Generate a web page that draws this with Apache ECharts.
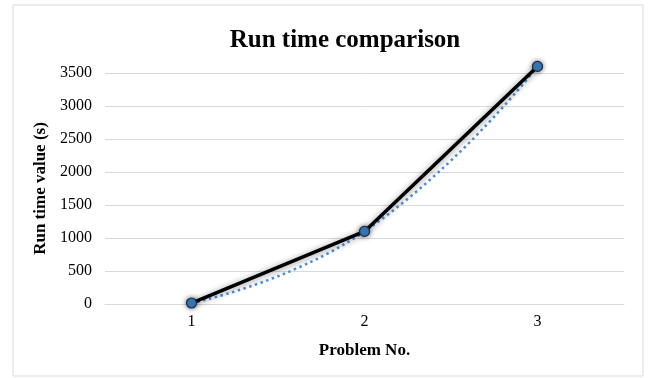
<!DOCTYPE html>
<html>
<head>
<meta charset="utf-8">
<script src="https://cdn.jsdelivr.net/npm/echarts@6/dist/echarts.min.js"></script>
<style>
html,body{margin:0;padding:0;background:#fff;}
#main{width:648px;height:378px;}
</style>
</head>
<body>
<div id="main"></div>
<script>
const categories = ['1', '2', '3'];
const runTimes = [15, 1100, 3600];
const titleText = 'Run time comparison';
const xName = 'Problem No.';
const yName = 'Run time value (s)';

const serif = '"Liberation Serif", "Times New Roman", serif';
const chart = echarts.init(document.getElementById('main'), null, {renderer: 'canvas'});
chart.setOption({
  backgroundColor: '#ffffff',
  animation: false,
  graphic: [{
    type: 'rect',
    shape: {x: 13, y: 5, width: 630, height: 371},
    style: {fill: 'none', stroke: '#d9d9d9', lineWidth: 1},
    silent: true
  }],
  title: {
    text: titleText,
    left: 340,
    textAlign: 'center',
    top: 23,
    textStyle: {fontFamily: serif, fontSize: 25, fontWeight: 'bold', color: '#000'}
  },
  grid: {left: 105, right: 24, top: 73, bottom: 74},
  xAxis: {
    type: 'category',
    data: categories,
    boundaryGap: true,
    name: xName,
    nameLocation: 'middle',
    nameGap: 38,
    nameTextStyle: {fontFamily: serif, fontSize: 17, fontWeight: 'bold', color: '#000'},
    axisLine: {show: true, lineStyle: {color: '#d9d9d9', width: 1}},
    axisTick: {show: false},
    axisLabel: {fontFamily: serif, fontSize: 16, color: '#000', margin: 10}
  },
  yAxis: {
    type: 'value',
    min: 0,
    max: 3500,
    interval: 500,
    name: yName,
    nameLocation: 'middle',
    nameGap: 54,
    nameTextStyle: {fontFamily: serif, fontSize: 17, fontWeight: 'bold', color: '#000'},
    axisLine: {show: false},
    axisTick: {show: false},
    axisLabel: {fontFamily: serif, fontSize: 16, color: '#000', margin: 13, formatter: function (v) { return String(v); }},
    splitLine: {lineStyle: {color: '#d9d9d9', width: 1}}
  },
  series: [
    {
      name: 'Trend',
      type: 'line',
      data: runTimes,
      smooth: 0.5,
      clip: false,
      showSymbol: false,
      symbol: 'none',
      z: 2,
      lineStyle: {color: '#4a90e2', width: 2.5, type: [2.5, 3.5]}
    },
    {
      name: 'Run time',
      type: 'line',
      data: runTimes,
      clip: false,
      symbol: 'circle',
      symbolSize: 10,
      z: 3,
      lineStyle: {color: '#000', width: 3.5, shadowColor: 'rgba(0,0,0,0.45)', shadowBlur: 6, shadowOffsetY: 1},
      itemStyle: {color: '#3a7fc4', borderColor: '#1a2a44', borderWidth: 1.2, shadowColor: 'rgba(0,0,0,0.5)', shadowBlur: 5}
    }
  ]
});
</script>
</body>
</html>
